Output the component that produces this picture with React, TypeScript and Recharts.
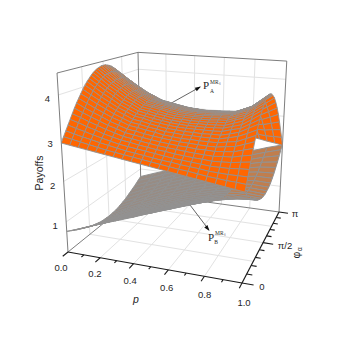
import { ComposedChart, Line, Scatter, XAxis, YAxis } from 'recharts'

const SIZE = 360
const Z_MIN = 0.23
const Z_MAX = 4.48

// phi is kept as a fraction of pi
const pGridA = [0, 0.05, 0.1, 0.15, 0.2, 0.25, 0.3, 0.35, 0.4, 0.45, 0.5, 0.55, 0.6, 0.65, 0.7, 0.75, 0.8, 0.85, 0.9, 0.95, 1]
const phiGridA = [
  0, 0.025, 0.05, 0.075, 0.1, 0.125, 0.15, 0.175, 0.2, 0.225, 0.25, 0.275, 0.3, 0.325, 0.35, 0.375, 0.4, 0.425, 0.45,
  0.475, 0.5, 0.525, 0.55, 0.575, 0.6, 0.65, 0.7, 0.75, 0.8, 0.85, 0.9, 0.95, 1,
]
const payoffA = [
  [2.91, 2.88, 2.85, 2.82, 2.79, 2.76, 2.73, 2.7, 2.67, 2.64, 2.61, 2.58, 2.55, 2.52, 2.49, 2.46, 2.43, 2.4, 2.37, 2.34, 2.31],
  [3.03, 2.99, 2.95, 2.91, 2.87, 2.83, 2.8, 2.77, 2.74, 2.71, 2.68, 2.65, 2.62, 2.59, 2.57, 2.54, 2.51, 2.49, 2.47, 2.46, 2.44],
  [3.14, 3.09, 3.04, 3.0, 2.95, 2.91, 2.87, 2.83, 2.8, 2.77, 2.74, 2.71, 2.69, 2.66, 2.64, 2.62, 2.59, 2.58, 2.57, 2.57, 2.57],
  [3.25, 3.19, 3.14, 3.08, 3.03, 2.98, 2.93, 2.9, 2.87, 2.84, 2.81, 2.78, 2.75, 2.73, 2.71, 2.69, 2.67, 2.67, 2.67, 2.69, 2.7],
  [3.36, 3.3, 3.23, 3.17, 3.1, 3.05, 3.0, 2.97, 2.93, 2.9, 2.87, 2.85, 2.82, 2.8, 2.78, 2.77, 2.75, 2.76, 2.77, 2.8, 2.83],
  [3.47, 3.4, 3.32, 3.25, 3.18, 3.12, 3.06, 3.03, 2.99, 2.96, 2.93, 2.91, 2.89, 2.87, 2.85, 2.84, 2.83, 2.85, 2.86, 2.91, 2.95],
  [3.58, 3.49, 3.41, 3.33, 3.25, 3.19, 3.12, 3.09, 3.05, 3.02, 2.99, 2.97, 2.95, 2.94, 2.92, 2.92, 2.91, 2.93, 2.95, 3.01, 3.07],
  [3.68, 3.58, 3.49, 3.41, 3.32, 3.25, 3.18, 3.15, 3.11, 3.08, 3.05, 3.03, 3.01, 3.0, 2.99, 2.98, 2.98, 3.01, 3.04, 3.11, 3.19],
  [3.77, 3.67, 3.57, 3.48, 3.39, 3.32, 3.24, 3.21, 3.17, 3.14, 3.1, 3.08, 3.06, 3.06, 3.05, 3.05, 3.05, 3.09, 3.12, 3.21, 3.3],
  [3.86, 3.76, 3.65, 3.55, 3.45, 3.37, 3.29, 3.26, 3.22, 3.19, 3.15, 3.14, 3.12, 3.12, 3.11, 3.11, 3.11, 3.16, 3.21, 3.3, 3.4],
  [3.95, 3.83, 3.72, 3.61, 3.51, 3.43, 3.34, 3.31, 3.27, 3.23, 3.2, 3.19, 3.17, 3.17, 3.16, 3.17, 3.17, 3.22, 3.28, 3.39, 3.5],
  [4.03, 3.91, 3.78, 3.67, 3.56, 3.48, 3.39, 3.36, 3.31, 3.28, 3.25, 3.23, 3.22, 3.22, 3.22, 3.22, 3.23, 3.29, 3.34, 3.46, 3.58],
  [4.1, 3.97, 3.84, 3.73, 3.61, 3.52, 3.43, 3.39, 3.35, 3.32, 3.29, 3.27, 3.26, 3.26, 3.26, 3.27, 3.28, 3.34, 3.4, 3.53, 3.67],
  [4.16, 4.03, 3.9, 3.78, 3.65, 3.56, 3.47, 3.43, 3.39, 3.35, 3.32, 3.31, 3.29, 3.3, 3.3, 3.31, 3.32, 3.39, 3.46, 3.6, 3.74],
  [4.22, 4.08, 3.94, 3.82, 3.69, 3.6, 3.5, 3.46, 3.42, 3.39, 3.35, 3.34, 3.33, 3.33, 3.33, 3.35, 3.36, 3.44, 3.51, 3.65, 3.8],
  [4.27, 4.13, 3.98, 3.86, 3.73, 3.63, 3.53, 3.49, 3.45, 3.41, 3.38, 3.37, 3.36, 3.36, 3.36, 3.38, 3.39, 3.47, 3.55, 3.7, 3.85],
  [4.31, 4.16, 4.02, 3.89, 3.76, 3.66, 3.56, 3.52, 3.48, 3.44, 3.4, 3.39, 3.38, 3.38, 3.39, 3.41, 3.42, 3.5, 3.58, 3.74, 3.9],
  [4.34, 4.19, 4.04, 3.91, 3.78, 3.68, 3.57, 3.53, 3.49, 3.45, 3.42, 3.41, 3.39, 3.4, 3.41, 3.43, 3.44, 3.53, 3.61, 3.77, 3.93],
  [4.36, 4.21, 4.06, 3.93, 3.79, 3.69, 3.59, 3.54, 3.5, 3.47, 3.43, 3.42, 3.41, 3.41, 3.42, 3.44, 3.45, 3.54, 3.63, 3.79, 3.96],
  [4.38, 4.22, 4.07, 3.94, 3.8, 3.7, 3.6, 3.55, 3.51, 3.47, 3.44, 3.43, 3.42, 3.42, 3.43, 3.45, 3.46, 3.55, 3.64, 3.8, 3.97],
  [4.38, 4.23, 4.07, 3.94, 3.8, 3.7, 3.59, 3.55, 3.51, 3.47, 3.44, 3.43, 3.41, 3.42, 3.43, 3.45, 3.46, 3.55, 3.64, 3.8, 3.97],
  [4.38, 4.22, 4.07, 3.93, 3.79, 3.69, 3.59, 3.55, 3.5, 3.47, 3.44, 3.42, 3.41, 3.42, 3.42, 3.44, 3.46, 3.54, 3.63, 3.8, 3.96],
  [4.36, 4.21, 4.06, 3.92, 3.78, 3.68, 3.58, 3.54, 3.49, 3.46, 3.43, 3.41, 3.4, 3.41, 3.41, 3.43, 3.44, 3.53, 3.62, 3.78, 3.94],
  [4.34, 4.19, 4.04, 3.9, 3.77, 3.67, 3.57, 3.52, 3.48, 3.45, 3.41, 3.4, 3.38, 3.39, 3.4, 3.41, 3.43, 3.51, 3.59, 3.75, 3.91],
  [4.31, 4.16, 4.01, 3.88, 3.75, 3.65, 3.55, 3.5, 3.46, 3.43, 3.39, 3.38, 3.36, 3.37, 3.37, 3.39, 3.4, 3.48, 3.56, 3.72, 3.87],
  [4.22, 4.08, 3.94, 3.81, 3.68, 3.59, 3.49, 3.45, 3.41, 3.37, 3.34, 3.32, 3.31, 3.31, 3.31, 3.32, 3.33, 3.4, 3.48, 3.62, 3.77],
  [4.1, 3.97, 3.84, 3.72, 3.6, 3.51, 3.42, 3.37, 3.33, 3.3, 3.26, 3.25, 3.23, 3.23, 3.22, 3.23, 3.24, 3.3, 3.36, 3.49, 3.62],
  [3.95, 3.83, 3.71, 3.6, 3.49, 3.41, 3.33, 3.28, 3.24, 3.21, 3.17, 3.15, 3.13, 3.13, 3.12, 3.12, 3.12, 3.17, 3.22, 3.33, 3.44],
  [3.77, 3.67, 3.56, 3.47, 3.37, 3.29, 3.22, 3.18, 3.14, 3.1, 3.07, 3.04, 3.02, 3.01, 3.0, 2.99, 2.99, 3.02, 3.06, 3.14, 3.23],
  [3.58, 3.49, 3.4, 3.32, 3.23, 3.17, 3.1, 3.06, 3.02, 2.98, 2.95, 2.92, 2.9, 2.88, 2.86, 2.85, 2.84, 2.86, 2.88, 2.93, 2.99],
  [3.36, 3.29, 3.22, 3.15, 3.08, 3.03, 2.97, 2.93, 2.89, 2.86, 2.82, 2.79, 2.76, 2.74, 2.72, 2.7, 2.68, 2.68, 2.68, 2.71, 2.73],
  [3.14, 3.09, 3.03, 2.98, 2.93, 2.88, 2.83, 2.8, 2.76, 2.72, 2.69, 2.66, 2.62, 2.59, 2.56, 2.54, 2.51, 2.49, 2.47, 2.47, 2.47],
  [2.91, 2.87, 2.84, 2.8, 2.77, 2.73, 2.69, 2.66, 2.62, 2.59, 2.55, 2.51, 2.48, 2.44, 2.41, 2.37, 2.33, 2.3, 2.26, 2.23, 2.19],
]

const pGridB = [0, 0.1, 0.2, 0.3, 0.4, 0.5, 0.6, 0.7, 0.8, 0.9, 1]
const phiGridB = [0, 0.05, 0.1, 0.15, 0.2, 0.25, 0.3, 0.35, 0.4, 0.45, 0.5, 0.55, 0.6, 0.65, 0.7, 0.75, 0.8, 0.85, 0.9, 0.95, 1]
const payoffB = [
  [0.76, 0.91, 1.07, 1.22, 1.37, 1.53, 1.68, 1.83, 1.98, 2.14, 2.29],
  [0.69, 0.85, 1.01, 1.17, 1.32, 1.47, 1.62, 1.77, 1.91, 2.05, 2.17],
  [0.62, 0.79, 0.95, 1.12, 1.27, 1.42, 1.57, 1.71, 1.84, 1.96, 2.06],
  [0.56, 0.73, 0.9, 1.07, 1.22, 1.38, 1.52, 1.65, 1.78, 1.87, 1.94],
  [0.5, 0.68, 0.85, 1.03, 1.18, 1.33, 1.47, 1.6, 1.72, 1.8, 1.84],
  [0.44, 0.63, 0.81, 0.99, 1.14, 1.29, 1.43, 1.55, 1.66, 1.73, 1.75],
  [0.4, 0.59, 0.77, 0.96, 1.11, 1.26, 1.39, 1.51, 1.61, 1.67, 1.67],
  [0.36, 0.55, 0.74, 0.93, 1.08, 1.23, 1.36, 1.48, 1.58, 1.62, 1.61],
  [0.33, 0.53, 0.72, 0.91, 1.06, 1.21, 1.34, 1.45, 1.55, 1.58, 1.56],
  [0.32, 0.52, 0.71, 0.9, 1.05, 1.2, 1.33, 1.44, 1.53, 1.56, 1.53],
  [0.31, 0.51, 0.7, 0.89, 1.04, 1.19, 1.32, 1.43, 1.52, 1.55, 1.52],
  [0.32, 0.51, 0.7, 0.89, 1.04, 1.19, 1.32, 1.43, 1.52, 1.55, 1.53],
  [0.33, 0.53, 0.72, 0.9, 1.05, 1.2, 1.33, 1.44, 1.54, 1.57, 1.55],
  [0.36, 0.55, 0.74, 0.92, 1.07, 1.22, 1.35, 1.47, 1.56, 1.6, 1.59],
  [0.4, 0.58, 0.77, 0.95, 1.1, 1.24, 1.38, 1.49, 1.59, 1.65, 1.65],
  [0.44, 0.63, 0.8, 0.98, 1.13, 1.28, 1.41, 1.53, 1.64, 1.7, 1.72],
  [0.5, 0.67, 0.84, 1.02, 1.16, 1.31, 1.45, 1.58, 1.69, 1.77, 1.81],
  [0.56, 0.73, 0.89, 1.06, 1.21, 1.35, 1.49, 1.62, 1.74, 1.84, 1.9],
  [0.62, 0.78, 0.94, 1.1, 1.25, 1.4, 1.54, 1.68, 1.8, 1.92, 2.01],
  [0.69, 0.84, 1.0, 1.15, 1.3, 1.45, 1.59, 1.73, 1.87, 2.0, 2.12],
  [0.76, 0.91, 1.05, 1.2, 1.35, 1.5, 1.64, 1.79, 1.94, 2.08, 2.2],
]

const pTicks = [0, 0.2, 0.4, 0.6, 0.8, 1]
const pMinorTicks = [0.1, 0.3, 0.5, 0.7, 0.9]
const zTicks = [1, 2, 3, 4]
const phiTicks = [0, 0.5, 1]
const phiMinorTicks = [0.1, 0.2, 0.3, 0.4, 0.6, 0.7, 0.8, 0.9]
const phiGridLines = [0.25, 0.5, 0.75]
const pGridLines = [0.2, 0.4, 0.6, 0.8]

function project(p: number, phi: number, z: number) {
  const s = (z - Z_MIN) / (Z_MAX - Z_MIN)
  const w = 1 - 0.0926 * p + 0.2857 * phi - 0.088 * s
  return {
    x: (151.6 * p + 113.3 * phi + 68 - 16 * s) / w,
    y: (4.8 * p - 3.9 * phi + 252 - 185.4 * s) / w,
  }
}

type Cell = { x: number; y: number; dx: number[]; dy: number[]; fill: string; sw: number }

// back rows first so the nearer part of the sheet paints over the rest
function buildCells(table: number[][], ps: number[], phis: number[], fillOf: (p: number) => string, sw: number) {
  const cells: Cell[] = []
  for (let r = phis.length - 2; r >= 0; r--) {
    for (let c = 0; c < ps.length - 1; c++) {
      const a = project(ps[c], phis[r], table[r][c])
      const b = project(ps[c + 1], phis[r], table[r][c + 1])
      const d = project(ps[c + 1], phis[r + 1], table[r + 1][c + 1])
      const e = project(ps[c], phis[r + 1], table[r + 1][c])
      cells.push({
        x: a.x,
        y: a.y,
        dx: [0, b.x - a.x, d.x - a.x, e.x - a.x],
        dy: [0, b.y - a.y, d.y - a.y, e.y - a.y],
        fill: fillOf(ps[c]),
        sw,
      })
    }
  }
  return cells
}

function CellShape(props: any) {
  const { cx, cy, payload } = props
  const pts = payload.dx.map((d: number, i: number) => `${cx + d},${cy + payload.dy[i]}`).join(' ')
  return <polygon points={pts} fill={payload.fill} stroke="#929292" strokeWidth={payload.sw} />
}

function TextShape(props: any) {
  const { cx, cy, payload } = props
  return (
    <text
      x={cx}
      y={cy}
      textAnchor={payload.anchor ?? 'middle'}
      dominantBaseline="central"
      fontFamily={payload.serif ? 'Liberation Serif, serif' : 'Liberation Sans, Arial, sans-serif'}
      fontSize={payload.size ?? 9.5}
      fontStyle={payload.italic ? 'italic' : 'normal'}
      fill="#262626"
      transform={payload.rotate ? `rotate(${payload.rotate} ${cx} ${cy})` : undefined}
    >
      {payload.text}
    </text>
  )
}

function ArrowHead(props: any) {
  const { cx, cy, payload } = props
  const len = Math.hypot(payload.ux, payload.uy)
  const ux = payload.ux / len
  const uy = payload.uy / len
  const pts = [
    [cx, cy],
    [cx - ux * 6 - uy * 2, cy - uy * 6 + ux * 2],
    [cx - ux * 6 + uy * 2, cy - uy * 6 - ux * 2],
  ]
  return <polygon points={pts.map((q) => q.join(',')).join(' ')} fill="#111" />
}

const segs: { pts: { x: number; y: number }[]; color: string; width: number }[] = []
const seg = (a: number[], b: number[], color: string, width: number) =>
  segs.push({ pts: [project(a[0], a[1], a[2]), project(b[0], b[1], b[2])], color, width })

const GRID = '#e2e2e2'
const BOX = '#6e6e6e'
const AXIS = '#1a1a1a'
zTicks.forEach((z) => {
  seg([0, 0, z], [0, 1, z], GRID, 1)
  seg([0, 1, z], [1, 1, z], GRID, 1)
})
phiGridLines.forEach((v) => {
  seg([0, v, Z_MIN], [0, v, Z_MAX], GRID, 1)
  seg([0, v, Z_MIN], [1, v, Z_MIN], GRID, 1)
})
pGridLines.forEach((p) => {
  seg([p, 1, Z_MIN], [p, 1, Z_MAX], GRID, 1)
  seg([p, 0, Z_MIN], [p, 1, Z_MIN], GRID, 1)
})
seg([0, 0, Z_MIN], [0, 1, Z_MIN], BOX, 0.9)
seg([0, 1, Z_MIN], [1, 1, Z_MIN], BOX, 0.9)
seg([0, 0, Z_MIN], [0, 0, Z_MAX], BOX, 0.9)
seg([0, 1, Z_MIN], [0, 1, Z_MAX], BOX, 0.9)
seg([1, 1, Z_MIN], [1, 1, Z_MAX], BOX, 0.9)
seg([0, 0, Z_MAX], [0, 1, Z_MAX], BOX, 0.9)
seg([0, 1, Z_MAX], [1, 1, Z_MAX], BOX, 0.9)

const axisSegs: typeof segs = []
const axisSeg = (a: number[], b: number[], width = 1.1) =>
  axisSegs.push({ pts: [project(a[0], a[1], a[2]), project(b[0], b[1], b[2])], color: AXIS, width })
axisSeg([0, 0, Z_MIN], [1, 0, Z_MIN], 1.2)
axisSeg([1, 0, Z_MIN], [1, 1, Z_MIN], 1.2)
pTicks.forEach((p) => axisSeg([p, 0, Z_MIN], [p, -0.055, Z_MIN]))
pMinorTicks.forEach((p) => axisSeg([p, 0, Z_MIN], [p, -0.028, Z_MIN]))
phiTicks.forEach((v) => axisSeg([1, v, Z_MIN], [1.06, v, Z_MIN]))
phiMinorTicks.forEach((v) => axisSeg([1, v, Z_MIN], [1.03, v, Z_MIN]))

const texts = [
  ...pTicks.map((p) => {
    const q = project(p, 0, Z_MIN)
    return { x: q.x - 7 + 9 * p, y: q.y + 15 + 4 * p, text: p.toFixed(1) }
  }),
  ...zTicks.map((z) => {
    const q = project(0, 0, z)
    return { x: q.x - 11, y: q.y + 4, text: String(z) }
  }),
  { x: 295, y: 213, text: 'π' },
  { x: 285, y: 245, text: 'π/2' },
  { x: 262, y: 286, text: '0' },
  { x: 136, y: 299, text: 'p', italic: true, size: 10.5 },
  { x: 39, y: 173, text: 'Payoffs', rotate: -90, size: 10.5 },
  { x: 296, y: 255, text: 'φ', rotate: -90, size: 10.5 },
  { x: 299, y: 249, text: 'α', rotate: -90, size: 6.5 },
  { x: 206, y: 85, text: 'P', serif: true, size: 11 },
  { x: 210, y: 82, text: 'MRₛ', serif: true, size: 5.5, anchor: 'start' },
  { x: 212, y: 91, text: 'A', serif: true, size: 5.5 },
  { x: 211, y: 237, text: 'P', serif: true, size: 11 },
  { x: 215, y: 233, text: 'MRₛ', serif: true, size: 5.5, anchor: 'start' },
  { x: 216, y: 242, text: 'B', serif: true, size: 5.5 },
]

const arrowA = [{ x: 150, y: 115 }, { x: 200, y: 87 }]
const arrowB = [{ x: 190, y: 205 }, { x: 209, y: 230 }]
const heads = [
  { x: 201, y: 86.5, ux: 50, uy: -28 },
  { x: 209.5, y: 231, ux: 19, uy: 25 },
]

const cellsB = buildCells(payoffB, pGridB, phiGridB, (p) => (p >= 0.8 ? '#c07e4e' : '#988c84'), 1)
const cellsA = buildCells(payoffA, pGridA, phiGridA, () => '#ff6600', 0.9)

export default function App() {
  return (
    <div style={{ position: 'absolute', left: 0, top: 0, width: SIZE, height: SIZE, background: '#fff' }}>
      <ComposedChart width={SIZE} height={SIZE} margin={{ top: 0, right: 0, bottom: 0, left: 0 }}>
        <XAxis type="number" dataKey="x" domain={[0, SIZE]} hide />
        <YAxis type="number" dataKey="y" domain={[0, SIZE]} reversed hide />
        {segs.map((s, i) => (
          <Line key={`s${i}`} data={s.pts} dataKey="y" stroke={s.color} strokeWidth={s.width} dot={false} isAnimationActive={false} />
        ))}
        <Scatter data={cellsB} shape={CellShape} isAnimationActive={false} />
        <Scatter data={cellsA} shape={CellShape} isAnimationActive={false} />
        {axisSegs.map((s, i) => (
          <Line key={`a${i}`} data={s.pts} dataKey="y" stroke={s.color} strokeWidth={s.width} dot={false} isAnimationActive={false} />
        ))}
        <Line data={arrowA} dataKey="y" stroke="#222" strokeWidth={0.7} dot={false} isAnimationActive={false} />
        <Line data={arrowB} dataKey="y" stroke="#222" strokeWidth={0.7} dot={false} isAnimationActive={false} />
        <Scatter data={heads} shape={ArrowHead} isAnimationActive={false} />
        <Scatter data={texts} shape={TextShape} isAnimationActive={false} />
      </ComposedChart>
    </div>
  )
}
